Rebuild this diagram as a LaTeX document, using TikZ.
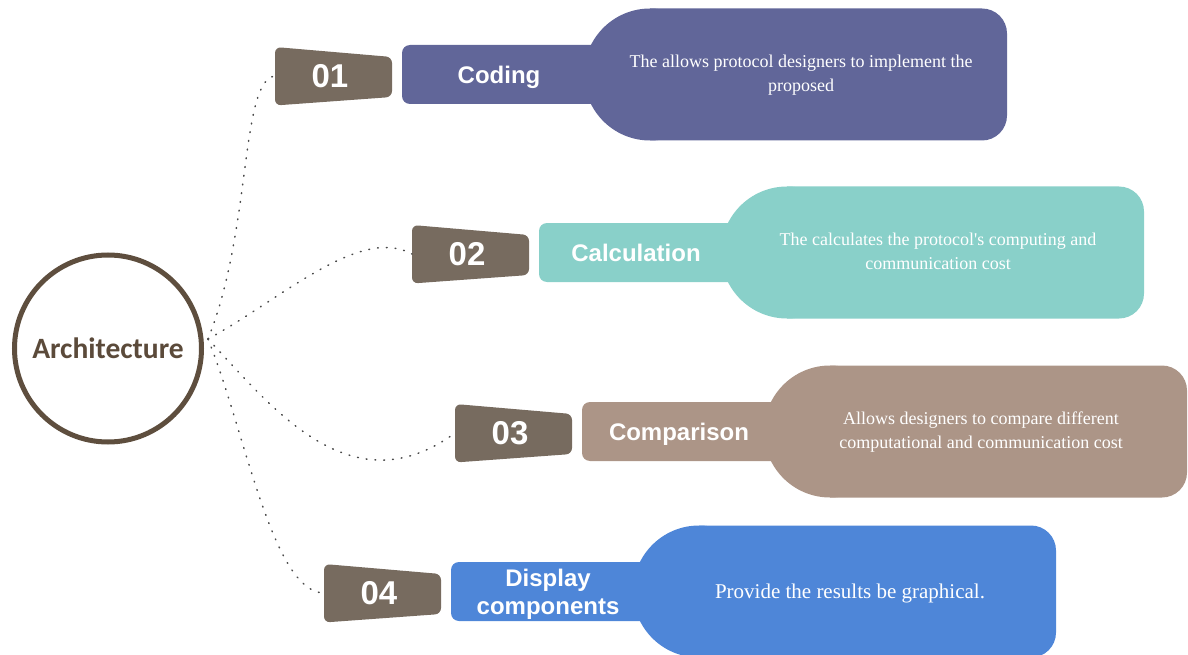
\documentclass[tikz,border=0pt]{standalone}
\usepackage{fontspec}
\setmainfont{Liberation Serif}
\newfontfamily\descf{Liberation Serif}
\newfontfamily\arialf{Liberation Sans}
\newfontfamily\calibrif{Carlito}
\definecolor{cCoding}{HTML}{616699}
\definecolor{cCalc}{HTML}{89D0C9}
\definecolor{cComp}{HTML}{AC9587}
\definecolor{cDisp}{HTML}{4E86D8}
\definecolor{cTag}{HTML}{776B5F}
\definecolor{cRing}{HTML}{5E4E3E}
\definecolor{cArch}{HTML}{5B4A3A}
\definecolor{cDot}{HTML}{4A4A4A}
\tikzset{
  numtxt/.style={text=white, font=\arialf\bfseries\fontsize{33}{36}\selectfont, inner sep=0pt},
  labtxt/.style={text=white, font=\arialf\bfseries\fontsize{24}{28}\selectfont, align=center, inner sep=0pt},
  desctxt/.style={text=white, font=\descf\fontsize{18}{24}\selectfont, align=center, inner sep=0pt},
  dotline/.style={draw=cDot, line width=1.5pt, line cap=round, dash pattern=on 0.8pt off 8pt},
  tagshape/.style={fill=cTag, rounded corners=6pt}
}
% #1 x of neck, #2 centre y, #3 colour, #4 number, #5 label, #6 description, #7 name, #8 description font
\newcommand\bottlerow[8]{%
  \fill[#3] ({#1+248},{#2}) circle[radius=66];
  \fill[#3] ({#1+248},{#2-66}) [rounded corners=25pt] -- ({#1+605},{#2-66}) -- ({#1+605},{#2+66}) [sharp corners] -- ({#1+248},{#2+66}) -- cycle;
  \fill[#3, rounded corners=8pt] (#1,{#2-29.5}) rectangle ({#1+262},{#2+29.5});
  \fill[tagshape] ({#1-127},{#2-27.5}) -- ({#1-10},{#2-17.5}) -- ({#1-10},{#2+22.5}) -- ({#1-127},{#2+31}) -- cycle;
  \node[numtxt] (#7n) at ({#1-72},{#2+2}) {#4};
  \coordinate (#7w) at ({#1-127},{#2+1.5});
  \node[labtxt] (#7l) at ({#1+97},{#2+3}) {#5};
  \node[desctxt, #8] (#7d) at ({#1+399},{#2+0.5}) {#6};
}
\begin{document}
\begin{tikzpicture}[x=1pt,y=-1pt]
\useasboundingbox (0,0) rectangle (1188,655);
\bottlerow{402}{74.5}{cCoding}{01}{Coding\strut}{The allows protocol designers to implement the\strut\\proposed\strut}{r1}{}
\bottlerow{539}{252.5}{cCalc}{02}{Calculation\strut}{The calculates the protocol's computing and\strut\\communication cost\strut}{r2}{}
\bottlerow{582}{431.5}{cComp}{03}{Comparison\strut}{Allows designers to compare different\strut\\computational and communication cost\strut}{r3}{}
\bottlerow{451}{591.5}{cDisp}{04}{Display\strut\\components\strut}{Provide the results be graphical.\strut}{r4}{font=\descf\fontsize{21}{24}\selectfont, yshift=-2pt}
\node[circle, draw=cRing, line width=5pt, minimum size=187pt, inner sep=0pt,
      text=cArch, font=\calibrif\bfseries\fontsize{29.5}{32}\selectfont] (arch) at (108,348.5) {Architecture};
\coordinate (src) at (208,339);
\draw[dotline] (src) .. controls (252,230) and (240,80) .. (r1w);
\draw[dotline] (src) .. controls (280,300) and (360,225) .. (r2w);
\draw[dotline] (src) .. controls (270,405) and (350,510) .. (r3w);
\draw[dotline] (src) .. controls (245,430) and (272,592) .. (r4w);
\end{tikzpicture}
\end{document}
